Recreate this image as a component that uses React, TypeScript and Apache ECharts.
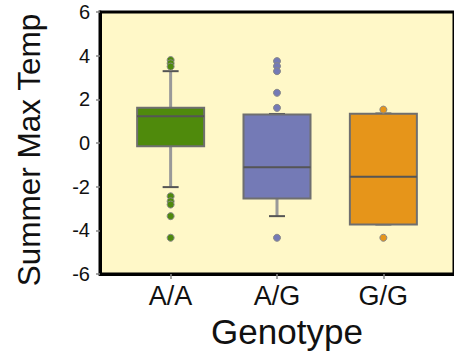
import React, { useEffect, useRef } from "react";
import * as echarts from "echarts";

const categories = ["A/A", "A/G", "G/G"];
const whiskerLow = [-2.02, -3.35, -3.73];
const q1 = [-0.15, -2.54, -3.73];
const median = [1.23, -1.11, -1.55];
const q3 = [1.61, 1.31, 1.34];
const whiskerHigh = [3.29, 1.33, 1.35];
const outliersAA = [3.8, 3.65, 3.5, -2.44, -2.67, -2.82, -3.35, -4.34];
const outliersAG = [3.75, 3.52, 3.29, 2.3, 1.61, -4.34];
const outliersGG = [1.53, -4.34];
const colors = ["#4F8A0C", "#747AB6", "#E6951A"];
const yTicks = [-6, -4, -2, 0, 2, 4, 6];

const FONT = "Liberation Sans, Arial, Helvetica, sans-serif";

export default function App() {
  const ref = useRef<HTMLDivElement>(null);
  useEffect(() => {
    if (!ref.current) return;
    const chart = echarts.init(ref.current, undefined, { renderer: "svg" });
    const boxData = categories.map((c, i) => [
      i + 1,
      whiskerLow[i],
      q1[i],
      median[i],
      q3[i],
      whiskerHigh[i],
    ]);
    const outlierSets = [outliersAA, outliersAG, outliersGG];
    const option: any = {
      animation: false,
      grid: {
        left: 100,
        top: 12,
        width: 366,
        height: 262,
        show: true,
        backgroundColor: "#FFF8C8",
        borderColor: "#000",
        borderWidth: 3,
      },
      xAxis: {
        type: "value",
        min: 0.336,
        max: 3.664,
        splitLine: { show: false },
        axisLine: { show: true, onZero: false, lineStyle: { color: "#000", width: 3 } },
        axisTick: {
          show: true,
          customValues: [1, 2, 3],
          length: 5,
          lineStyle: { color: "#888", width: 1.5 },
        },
        axisLabel: {
          customValues: [1, 2, 3],
          formatter: (v: number) => categories[Math.round(v) - 1] ?? "",
          fontSize: 27,
          color: "#111",
          fontFamily: FONT,
          margin: 8,
        },
        name: "Genotype",
        nameLocation: "middle",
        nameGap: 40,
        nameTextStyle: {
          fontSize: 35,
          color: "#111",
          fontFamily: FONT,
          padding: [0, 0, 0, 20],
        },
      },
      yAxis: {
        type: "value",
        min: yTicks[0],
        max: yTicks[yTicks.length - 1],
        interval: 2,
        splitLine: { show: false },
        axisLine: { show: true, onZero: false, lineStyle: { color: "#000", width: 3 } },
        axisTick: {
          show: true,
          length: 4,
          lineStyle: { color: "#888", width: 1.5 },
        },
        axisLabel: {
          fontSize: 20,
          color: "#111",
          fontFamily: FONT,
          margin: 10,
        },
        name: "Summer Max Temp",
        nameLocation: "middle",
        nameGap: 55,
        nameTextStyle: {
          fontSize: 31.5,
          color: "#111",
          fontFamily: FONT,
          padding: [0, 14, 0, 0],
        },
      },
      series: [
        {
          type: "custom",
          data: boxData,
          encode: { x: 0, y: [1, 2, 3, 4, 5] },
          z: 2,
          renderItem: (params: any, api: any) => {
            const x = api.value(0);
            const idx = params.dataIndex;
            const lo = api.coord([x, api.value(1)]);
            const b1 = api.coord([x, api.value(2)]);
            const md = api.coord([x, api.value(3)]);
            const b3 = api.coord([x, api.value(4)]);
            const hi = api.coord([x, api.value(5)]);
            const cx = lo[0];
            const half = 33.5;
            const cap = 8;
            const children: any[] = [];
            children.push({
              type: "line",
              shape: { x1: cx, y1: lo[1], x2: cx, y2: b1[1] },
              style: { stroke: "#999", lineWidth: 3 },
            });
            children.push({
              type: "line",
              shape: { x1: cx, y1: b3[1], x2: cx, y2: hi[1] },
              style: { stroke: "#999", lineWidth: 3 },
            });
            children.push({
              type: "line",
              shape: { x1: cx - cap, y1: lo[1], x2: cx + cap, y2: lo[1] },
              style: { stroke: "#555", lineWidth: 2 },
            });
            children.push({
              type: "line",
              shape: { x1: cx - cap, y1: hi[1], x2: cx + cap, y2: hi[1] },
              style: { stroke: "#555", lineWidth: 2 },
            });
            children.push({
              type: "rect",
              shape: {
                x: cx - half,
                y: b3[1],
                width: half * 2,
                height: b1[1] - b3[1],
              },
              style: { fill: colors[idx], stroke: "#6f6f6f", lineWidth: 2 },
            });
            children.push({
              type: "line",
              shape: { x1: cx - half, y1: md[1], x2: cx + half, y2: md[1] },
              style: { stroke: "#555", lineWidth: 2 },
            });
            return { type: "group", children };
          },
        },
        ...outlierSets.map((set, i) => ({
          type: "scatter",
          data: set.map((v) => [i + 1, v]),
          symbol: "circle",
          symbolSize: 7,
          z: 3,
          itemStyle: {
            color: colors[i],
            borderColor: "#888",
            borderWidth: 1,
            opacity: 1,
          },
        })),
      ],
    };
    chart.setOption(option);
    return () => chart.dispose();
  }, []);
  return (
    <div
      ref={ref}
      style={{ position: "absolute", left: 0, top: 0, width: 454, height: 354 }}
    />
  );
}
